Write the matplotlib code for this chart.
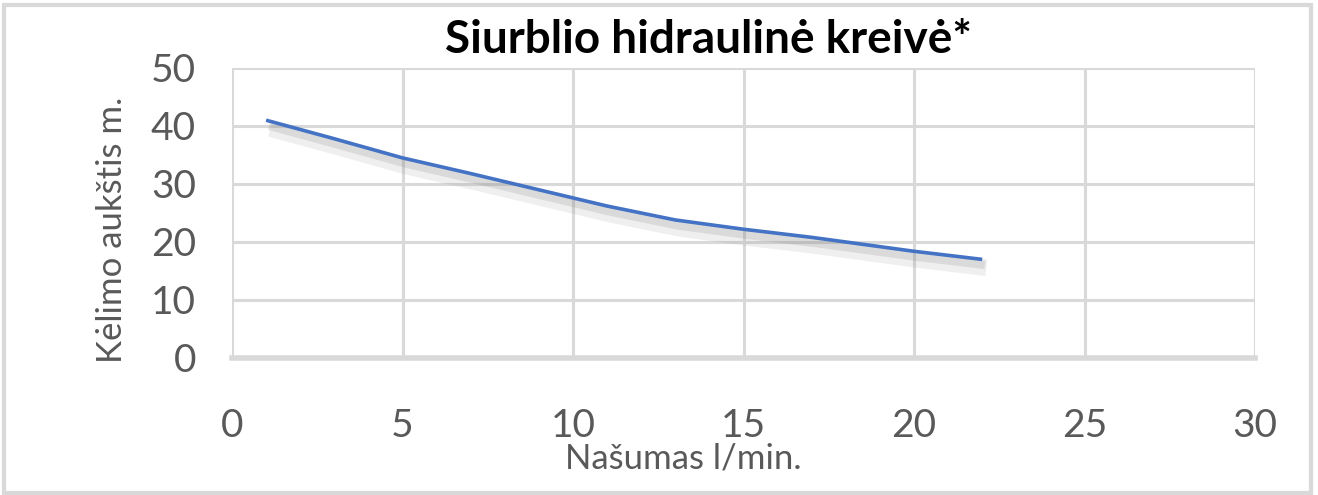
import matplotlib
matplotlib.use("Agg")
import matplotlib.pyplot as plt
import matplotlib.patheffects as pe
from matplotlib.patches import Rectangle

# values
flow = [1, 3, 5, 7, 9, 10, 11, 13, 15, 17, 19, 20, 22]
head = [41.0, 37.8, 34.5, 31.8, 29.0, 27.6, 26.2, 23.8, 22.2, 20.8, 19.2, 18.4, 17.0]

x_ticks = [0, 5, 10, 15, 20, 25, 30]
y_ticks = [0, 10, 20, 30, 40, 50]

title = "Siurblio hidraulinė kreivė*"
x_label = "Našumas l/min."
y_label = "Kėlimo aukštis m."

plt.rcParams["font.family"] = ["Lato", "DejaVu Sans"]

W, H = 1318, 495
fig = plt.figure(figsize=(W / 100, H / 100), dpi=100)
ax = fig.add_axes([232 / W, 1 - 358 / H, (1255 - 232) / W, (358 - 68) / H])

grid_c = "#d9d9d9"
text_c = "#595959"

ax.plot(flow, head, color="#4472c4", linewidth=2.6, solid_capstyle="butt",
        path_effects=[pe.SimpleLineShadow(offset=(3, -6), shadow_color="gray",
                                          alpha=0.12, linewidth=12),
                      pe.SimpleLineShadow(offset=(2, -4), shadow_color="gray",
                                          alpha=0.18, linewidth=6),
                      pe.Normal()],
        zorder=3)

ax.set_xlim(0, 30)
ax.set_ylim(0, 50)
ax.set_xticks(x_ticks)
ax.set_yticks(y_ticks)
for s in ax.spines.values():
    s.set_visible(False)
ax.grid(True, color=grid_c, linewidth=2.2)
ax.axhline(0, color=grid_c, linewidth=4, clip_on=False, zorder=2)
ax.tick_params(length=0, labelsize=28, colors=text_c)
ax.tick_params(axis="x", pad=36)
ax.tick_params(axis="y", pad=26)

fig.text(683 / W, 1 - 458 / H, x_label, ha="center", va="center",
         fontsize=25, color=text_c)
fig.text(112 / W, 1 - 230 / H, y_label, ha="center", va="center",
         rotation=90, fontsize=25, color=text_c)

fig.text(708 / W, 1 - 40 / H, title, ha="center", va="center",
         fontsize=33, fontweight="bold", color="black")

fig.patches.append(Rectangle((0.003, 0.005), 0.992, 0.985, transform=fig.transFigure,
                             fill=False, edgecolor=grid_c, linewidth=3))

fig.savefig("out.png", dpi=100)
